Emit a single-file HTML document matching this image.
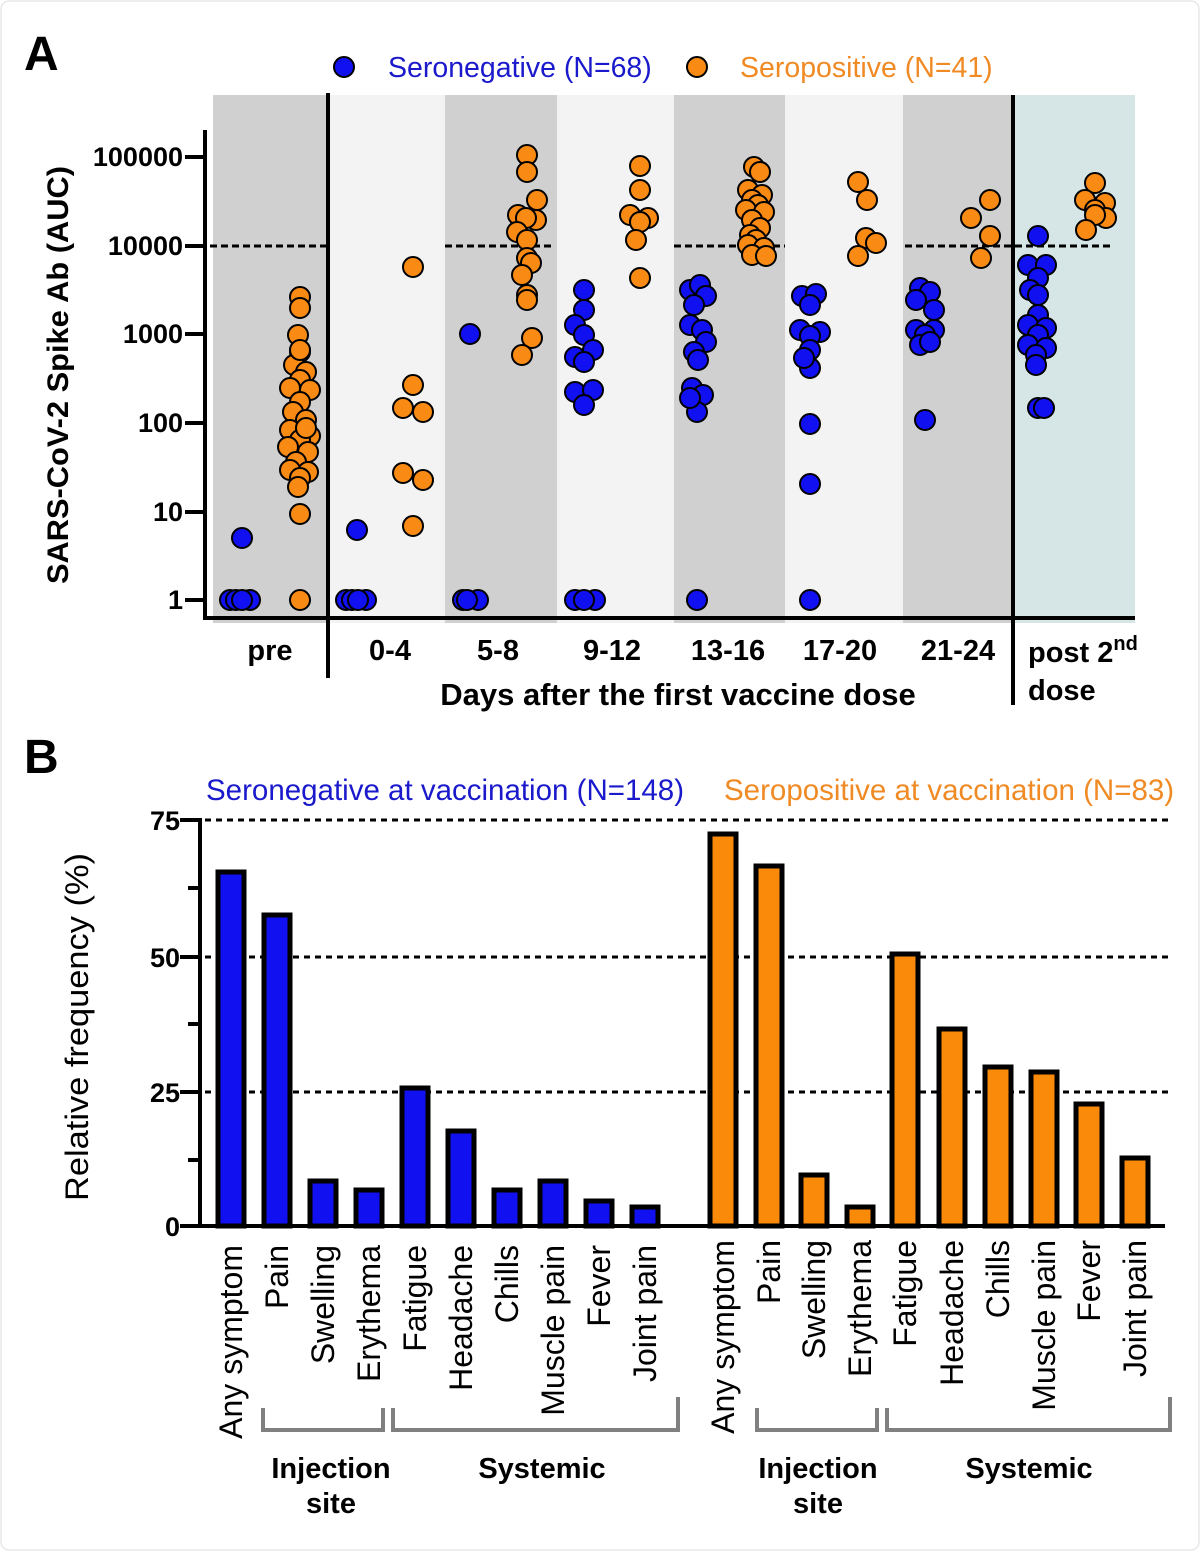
<!DOCTYPE html>
<html><head><meta charset="utf-8"><style>
html,body{margin:0;padding:0;background:#fff}
svg{display:block}
text{font-family:"Liberation Sans",Arial,sans-serif}
</style></head><body>
<svg width="1200" height="1551" viewBox="0 0 1200 1551" xmlns="http://www.w3.org/2000/svg">
<rect x="1" y="1" width="1198" height="1549" rx="8" fill="#fff" stroke="#ddd"/>
<text x="24" y="70" font-size="48" font-weight="bold">A</text>
<text x="24" y="773" font-size="48" font-weight="bold">B</text>
<circle cx="344" cy="67" r="10" fill="#1010f0" stroke="#000" stroke-width="2"/>
<text x="388" y="77" font-size="28.5" fill="#1a1acc">Seronegative (N=68)</text>
<circle cx="697" cy="67" r="10" fill="#f98a14" stroke="#000" stroke-width="2"/>
<text x="740" y="77" font-size="28.5" fill="#f08a24">Seropositive (N=41)</text>
<rect x="213" y="95" width="115" height="528" fill="#d0d0d0"/>
<rect x="328" y="95" width="117" height="528" fill="#f3f3f3"/>
<rect x="445" y="95" width="112" height="528" fill="#d0d0d0"/>
<rect x="557" y="95" width="117" height="528" fill="#f3f3f3"/>
<rect x="674" y="95" width="111" height="528" fill="#d0d0d0"/>
<rect x="785" y="95" width="118" height="528" fill="#f3f3f3"/>
<rect x="903" y="95" width="110" height="528" fill="#d0d0d0"/>
<rect x="1013" y="95" width="122" height="528" fill="#d6e6e6"/>
<g stroke="#000" stroke-width="3" stroke-dasharray="7,4">
<line x1="210" y1="246" x2="328" y2="246"/>
<line x1="445" y1="246" x2="553" y2="246"/>
<line x1="674" y1="246" x2="785" y2="246"/>
<line x1="905" y1="246" x2="1113" y2="246"/>
</g>
<g stroke="#000" stroke-width="4">
<line x1="205" y1="130" x2="205" y2="620"/>
<line x1="203" y1="618" x2="1135" y2="618"/>
<line x1="328" y1="93" x2="328" y2="678"/>
<line x1="1013" y1="95" x2="1013" y2="705"/>
<line x1="185" y1="157" x2="205" y2="157"/><line x1="185" y1="246" x2="205" y2="246"/>
<line x1="185" y1="334" x2="205" y2="334"/><line x1="185" y1="423" x2="205" y2="423"/>
<line x1="185" y1="512" x2="205" y2="512"/><line x1="185" y1="600" x2="205" y2="600"/>
</g>
<g font-size="27" font-weight="bold" text-anchor="end">
<text x="183" y="166">100000</text><text x="183" y="255">10000</text>
<text x="183" y="343">1000</text><text x="183" y="432">100</text>
<text x="183" y="521">10</text><text x="183" y="609">1</text>
</g>
<text transform="translate(68,375) rotate(-90)" font-size="30" font-weight="bold" text-anchor="middle" textLength="418" lengthAdjust="spacingAndGlyphs">SARS-CoV-2 Spike Ab (AUC)</text>
<g font-size="29" font-weight="bold" text-anchor="middle">
<text x="270" y="660">pre</text><text x="390" y="660">0-4</text><text x="498" y="660">5-8</text>
<text x="612" y="660">9-12</text><text x="728" y="660">13-16</text><text x="840" y="660">17-20</text>
<text x="958" y="660">21-24</text>
<text x="678" y="705" font-size="31">Days after the first vaccine dose</text>
</g>
<text x="1028" y="662" font-size="29" font-weight="bold">post 2<tspan font-size="20" dy="-12">nd</tspan></text>
<text x="1028" y="700" font-size="29" font-weight="bold">dose</text>
<g fill="#1010f0" stroke="#000" stroke-width="2">
<circle cx="230" cy="600" r="10"/><circle cx="250" cy="600" r="10"/><circle cx="236" cy="600" r="10"/><circle cx="242" cy="600" r="10"/><circle cx="242" cy="538" r="10"/>
<circle cx="346" cy="600" r="10"/><circle cx="366" cy="600" r="10"/><circle cx="352" cy="600" r="10"/><circle cx="358" cy="600" r="10"/><circle cx="357" cy="530" r="10"/>
<circle cx="463" cy="600" r="10"/><circle cx="478" cy="600" r="10"/><circle cx="467" cy="600" r="10"/><circle cx="470" cy="334" r="10"/>
<circle cx="575" cy="600" r="10"/><circle cx="595" cy="600" r="10"/><circle cx="584" cy="600" r="10"/>
<circle cx="584" cy="290" r="10"/><circle cx="584" cy="310" r="10"/><circle cx="575" cy="325" r="10"/><circle cx="584" cy="335" r="10"/><circle cx="593" cy="350" r="10"/><circle cx="575" cy="357" r="10"/><circle cx="584" cy="362" r="10"/><circle cx="575" cy="392" r="10"/><circle cx="593" cy="390" r="10"/><circle cx="584" cy="405" r="10"/>
<circle cx="697" cy="600" r="10"/>
<circle cx="690" cy="290" r="10"/><circle cx="700" cy="285" r="10"/><circle cx="706" cy="296" r="10"/><circle cx="694" cy="305" r="10"/><circle cx="690" cy="325" r="10"/><circle cx="702" cy="330" r="10"/><circle cx="706" cy="342" r="10"/><circle cx="694" cy="352" r="10"/><circle cx="698" cy="360" r="10"/><circle cx="692" cy="388" r="10"/><circle cx="703" cy="395" r="10"/><circle cx="697" cy="412" r="10"/><circle cx="690" cy="398" r="10"/>
<circle cx="810" cy="600" r="10"/><circle cx="810" cy="484" r="10"/><circle cx="810" cy="424" r="10"/><circle cx="810" cy="368" r="10"/>
<circle cx="802" cy="296" r="10"/><circle cx="816" cy="294" r="10"/><circle cx="810" cy="305" r="10"/><circle cx="800" cy="330" r="10"/><circle cx="820" cy="332" r="10"/><circle cx="810" cy="336" r="10"/><circle cx="810" cy="350" r="10"/><circle cx="804" cy="358" r="10"/>
<circle cx="925" cy="420" r="10"/>
<circle cx="920" cy="288" r="10"/><circle cx="930" cy="292" r="10"/><circle cx="916" cy="300" r="10"/><circle cx="934" cy="310" r="10"/><circle cx="916" cy="330" r="10"/><circle cx="934" cy="330" r="10"/><circle cx="925" cy="335" r="10"/><circle cx="920" cy="345" r="10"/><circle cx="930" cy="342" r="10"/>
<circle cx="1038" cy="236" r="10"/><circle cx="1028" cy="265" r="10"/><circle cx="1046" cy="265" r="10"/><circle cx="1038" cy="278" r="10"/><circle cx="1030" cy="290" r="10"/><circle cx="1038" cy="295" r="10"/><circle cx="1038" cy="315" r="10"/><circle cx="1028" cy="325" r="10"/><circle cx="1046" cy="328" r="10"/><circle cx="1038" cy="335" r="10"/><circle cx="1028" cy="345" r="10"/><circle cx="1046" cy="348" r="10"/><circle cx="1036" cy="355" r="10"/><circle cx="1036" cy="365" r="10"/><circle cx="1038" cy="408" r="10"/><circle cx="1044" cy="408" r="10"/>
</g>
<g fill="#f98a14" stroke="#000" stroke-width="2">
<circle cx="300" cy="600" r="10"/><circle cx="300" cy="514" r="10"/>
<circle cx="300" cy="297" r="10"/><circle cx="300" cy="308" r="10"/><circle cx="298" cy="335" r="10"/><circle cx="300" cy="352" r="10"/><circle cx="294" cy="365" r="10"/><circle cx="306" cy="372" r="10"/><circle cx="300" cy="380" r="10"/><circle cx="290" cy="388" r="10"/><circle cx="310" cy="390" r="10"/><circle cx="300" cy="402" r="10"/><circle cx="293" cy="412" r="10"/><circle cx="306" cy="420" r="10"/><circle cx="290" cy="430" r="10"/><circle cx="310" cy="436" r="10"/><circle cx="300" cy="440" r="10"/><circle cx="288" cy="447" r="10"/><circle cx="308" cy="452" r="10"/><circle cx="296" cy="462" r="10"/><circle cx="290" cy="470" r="10"/><circle cx="308" cy="472" r="10"/><circle cx="300" cy="478" r="10"/><circle cx="298" cy="487" r="10"/><circle cx="306" cy="428" r="10"/><circle cx="300" cy="350" r="10"/>
<circle cx="413" cy="267" r="10"/><circle cx="413" cy="385" r="10"/><circle cx="403" cy="408" r="10"/><circle cx="423" cy="412" r="10"/><circle cx="403" cy="473" r="10"/><circle cx="423" cy="480" r="10"/><circle cx="413" cy="526" r="10"/>
<circle cx="527" cy="155" r="10"/><circle cx="527" cy="172" r="10"/><circle cx="537" cy="200" r="10"/><circle cx="518" cy="215" r="10"/><circle cx="536" cy="220" r="10"/><circle cx="526" cy="218" r="10"/><circle cx="517" cy="232" r="10"/><circle cx="527" cy="240" r="10"/><circle cx="527" cy="258" r="10"/><circle cx="531" cy="263" r="10"/><circle cx="522" cy="275" r="10"/><circle cx="527" cy="295" r="10"/><circle cx="527" cy="300" r="10"/><circle cx="532" cy="338" r="10"/><circle cx="522" cy="355" r="10"/>
<circle cx="640" cy="166" r="10"/><circle cx="640" cy="190" r="10"/><circle cx="630" cy="215" r="10"/><circle cx="648" cy="218" r="10"/><circle cx="640" cy="222" r="10"/><circle cx="636" cy="240" r="10"/><circle cx="640" cy="278" r="10"/>
<circle cx="754" cy="167" r="10"/><circle cx="760" cy="172" r="10"/><circle cx="748" cy="190" r="10"/><circle cx="762" cy="195" r="10"/><circle cx="752" cy="200" r="10"/><circle cx="758" cy="205" r="10"/><circle cx="746" cy="210" r="10"/><circle cx="764" cy="212" r="10"/><circle cx="752" cy="220" r="10"/><circle cx="760" cy="228" r="10"/><circle cx="750" cy="235" r="10"/><circle cx="756" cy="240" r="10"/><circle cx="748" cy="245" r="10"/><circle cx="764" cy="248" r="10"/><circle cx="752" cy="255" r="10"/><circle cx="766" cy="256" r="10"/>
<circle cx="858" cy="182" r="10"/><circle cx="867" cy="200" r="10"/><circle cx="866" cy="238" r="10"/><circle cx="876" cy="243" r="10"/><circle cx="858" cy="256" r="10"/>
<circle cx="971" cy="218" r="10"/><circle cx="990" cy="200" r="10"/><circle cx="990" cy="236" r="10"/><circle cx="981" cy="258" r="10"/>
<circle cx="1095" cy="183" r="10"/><circle cx="1085" cy="200" r="10"/><circle cx="1105" cy="203" r="10"/><circle cx="1095" cy="210" r="10"/><circle cx="1106" cy="218" r="10"/><circle cx="1095" cy="215" r="10"/><circle cx="1086" cy="230" r="10"/>
</g>

<text x="206" y="800" font-size="29.5" fill="#1a1acc">Seronegative at vaccination (N=148)</text>
<text x="724" y="800" font-size="29.5" fill="#f08a24">Seropositive at vaccination (N=83)</text>
<g stroke="#000" stroke-width="3" stroke-dasharray="6,5">
<line x1="205" y1="820" x2="1172" y2="820"/>
<line x1="205" y1="957" x2="1172" y2="957"/>
<line x1="205" y1="1092" x2="1172" y2="1092"/>
</g>
<g stroke="#000" stroke-width="5">
<rect x="218" y="872" width="26" height="354" fill="#1010f0"/>
<rect x="264" y="915" width="26" height="311" fill="#1010f0"/>
<rect x="310" y="1181" width="26" height="45" fill="#1010f0"/>
<rect x="356" y="1190" width="26" height="36" fill="#1010f0"/>
<rect x="402" y="1088" width="26" height="138" fill="#1010f0"/>
<rect x="448" y="1131" width="26" height="95" fill="#1010f0"/>
<rect x="494" y="1190" width="26" height="36" fill="#1010f0"/>
<rect x="540" y="1181" width="26" height="45" fill="#1010f0"/>
<rect x="586" y="1201" width="26" height="25" fill="#1010f0"/>
<rect x="632" y="1207" width="26" height="19" fill="#1010f0"/>
<rect x="710" y="834" width="26" height="392" fill="#f98a0a"/>
<rect x="756" y="866" width="26" height="360" fill="#f98a0a"/>
<rect x="801" y="1175" width="26" height="51" fill="#f98a0a"/>
<rect x="847" y="1207" width="26" height="19" fill="#f98a0a"/>
<rect x="892" y="954" width="26" height="272" fill="#f98a0a"/>
<rect x="939" y="1029" width="26" height="197" fill="#f98a0a"/>
<rect x="985" y="1067" width="26" height="159" fill="#f98a0a"/>
<rect x="1031" y="1072" width="26" height="154" fill="#f98a0a"/>
<rect x="1076" y="1104" width="26" height="122" fill="#f98a0a"/>
<rect x="1122" y="1158" width="26" height="68" fill="#f98a0a"/>
</g>
<g stroke="#000" stroke-width="4">
<line x1="200" y1="818" x2="200" y2="1228"/>
<line x1="180" y1="1226" x2="1165" y2="1226"/>
<line x1="180" y1="820" x2="200" y2="820"/><line x1="188" y1="888" x2="200" y2="888"/>
<line x1="180" y1="957" x2="200" y2="957"/><line x1="188" y1="1024" x2="200" y2="1024"/>
<line x1="180" y1="1092" x2="200" y2="1092"/><line x1="188" y1="1160" x2="200" y2="1160"/>
</g>
<g font-size="27" font-weight="bold" text-anchor="end">
<text x="180" y="830">75</text><text x="180" y="967">50</text><text x="180" y="1102">25</text><text x="180" y="1236">0</text>
</g>
<text transform="translate(88,1027) rotate(-90)" font-size="32" text-anchor="middle" textLength="348" lengthAdjust="spacingAndGlyphs">Relative frequency (%)</text>
<g font-size="32" text-anchor="end">
<text transform="translate(242,1245) rotate(-90)">Any symptom</text>
<text transform="translate(288,1245) rotate(-90)">Pain</text>
<text transform="translate(334,1245) rotate(-90)">Swelling</text>
<text transform="translate(380,1245) rotate(-90)">Erythema</text>
<text transform="translate(426,1245) rotate(-90)">Fatigue</text>
<text transform="translate(472,1245) rotate(-90)">Headache</text>
<text transform="translate(518,1245) rotate(-90)">Chills</text>
<text transform="translate(564,1245) rotate(-90)">Muscle pain</text>
<text transform="translate(610,1245) rotate(-90)">Fever</text>
<text transform="translate(656,1245) rotate(-90)">Joint pain</text>
<text transform="translate(734,1240) rotate(-90)">Any symptom</text>
<text transform="translate(780,1240) rotate(-90)">Pain</text>
<text transform="translate(825,1240) rotate(-90)">Swelling</text>
<text transform="translate(871,1240) rotate(-90)">Erythema</text>
<text transform="translate(916,1240) rotate(-90)">Fatigue</text>
<text transform="translate(963,1240) rotate(-90)">Headache</text>
<text transform="translate(1009,1240) rotate(-90)">Chills</text>
<text transform="translate(1055,1240) rotate(-90)">Muscle pain</text>
<text transform="translate(1100,1240) rotate(-90)">Fever</text>
<text transform="translate(1146,1240) rotate(-90)">Joint pain</text>
</g>
<g fill="none" stroke="#808080" stroke-width="4">
<polyline points="263,1408 263,1430 383,1430 383,1408"/>
<polyline points="393,1408 393,1430 678,1430 678,1397"/>
<polyline points="757,1408 757,1430 877,1430 877,1408"/>
<polyline points="887,1408 887,1430 1170,1430 1170,1397"/>
</g>
<g font-size="29" font-weight="bold" text-anchor="middle">
<text x="331" y="1478">Injection</text><text x="331" y="1513">site</text>
<text x="542" y="1478">Systemic</text>
<text x="818" y="1478">Injection</text><text x="818" y="1513">site</text>
<text x="1029" y="1478">Systemic</text>
</g>
</svg>
</body></html>
